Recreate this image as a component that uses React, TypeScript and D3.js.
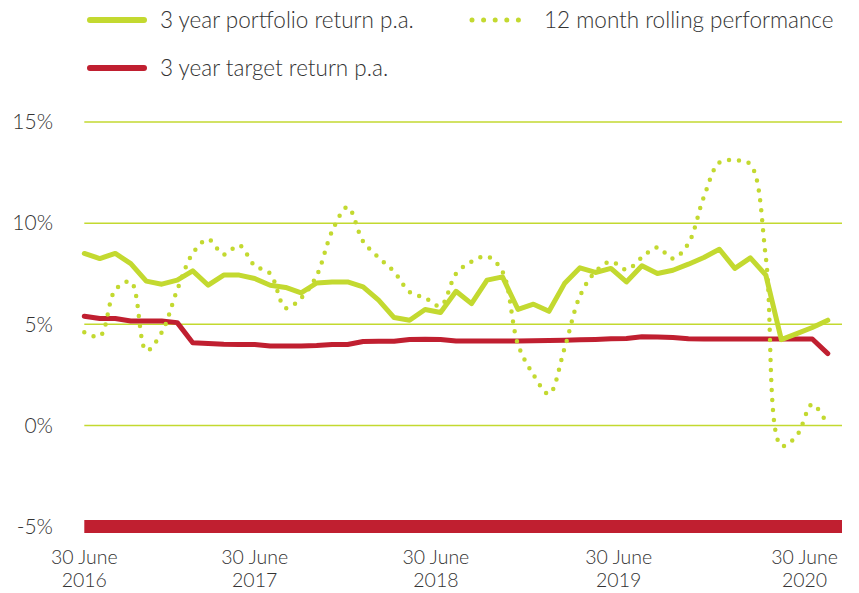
import React from "react";
import * as d3 from "d3";

const portfolio3y = [
  8.5, 8.25, 8.5, 8.0, 7.13, 6.98, 7.18, 7.64, 6.93, 7.43, 7.43, 7.26, 6.93, 6.82, 6.55,
  7.04, 7.09, 7.09, 6.85, 6.19, 5.33, 5.2, 5.73, 5.58, 6.63, 6.02, 7.18, 7.34, 5.73, 5.99,
  5.64, 7.01, 7.79, 7.56, 7.76, 7.09, 7.89, 7.51, 7.67, 7.97, 8.3, 8.71, 7.76, 8.28, 7.43,
  4.24, 4.54, 4.84, 5.2,
];
const rolling12m = [
  4.6, 4.4, 6.7, 7.1, 3.7, 4.6, 6.7, 8.5, 9.2, 8.45, 8.9, 7.9, 7.5, 5.8, 6.3,
  7.4, 9.6, 10.8, 9.1, 8.3, 7.6, 6.6, 6.3, 5.9, 7.5, 8.1, 8.35, 7.6, 4.0, 2.5,
  1.55, 3.8, 6.4, 7.6, 8.1, 7.7, 8.3, 8.8, 8.25, 9.0, 11.3, 13.0, 13.1, 12.9, 8.3,
  -1.0, -0.5, 1.05, 0.0,
];
const target3y = [
  5.4, 5.28, 5.28, 5.16, 5.16, 5.16, 5.08, 4.09, 4.05, 4.01, 4.0, 4.0, 3.92, 3.92, 3.92,
  3.95, 4.0, 4.0, 4.15, 4.16, 4.16, 4.25, 4.26, 4.25, 4.17, 4.17, 4.17, 4.17, 4.17, 4.18,
  4.2, 4.21, 4.23, 4.25, 4.28, 4.3, 4.38, 4.37, 4.35, 4.28, 4.27, 4.27, 4.27, 4.27, 4.27,
  4.27, 4.27, 4.27, 3.55,
];
const yTicks = [-5, 0, 5, 10, 15];
const xTickPos = [0, 11.0, 22.7, 34.5, 46.5];
const xTickLabels = [
  ["30 June", "2016"],
  ["30 June", "2017"],
  ["30 June", "2018"],
  ["30 June", "2019"],
  ["30 June", "2020"],
];
const legendItems = [
  { label: "3 year portfolio return p.a.", kind: "solid-green" },
  { label: "12 month rolling performance", kind: "dotted" },
  { label: "3 year target return p.a.", kind: "solid-red" },
];

const GREEN = "#c3d930";
const RED = "#c01f30";
const TEXT = "#333333";
const FONT = "'Source Sans Pro', Lato, 'Open Sans', sans-serif";

export default function App() {
  const W = 859;
  const H = 593;
  const x = d3.scaleLinear().domain([0, 48]).range([84.3, 827.8]);
  const y = d3.scaleLinear().domain([-5, 15]).range([526.5, 122]);
  const xEnd = 842;

  const solidLine = d3
    .line<number>()
    .x((_, i) => x(i))
    .y((d) => y(d))
    .curve(d3.curveLinear);
  const smoothLine = d3
    .line<number>()
    .x((_, i) => x(i))
    .y((d) => y(d))
    .curve(d3.curveCatmullRom.alpha(0.5));

  const legendPos = [
    { x: 88, y: 20 },
    { x: 472, y: 20 },
    { x: 88, y: 68 },
  ];

  return (
    <svg width={W} height={H} style={{ display: "block", position: "absolute", left: 0, top: 0 }} fontFamily={FONT}>
      <rect width={W} height={H} fill="#ffffff" />
      {legendItems.map((it, i) => {
        const p = legendPos[i];
        return (
          <g key={it.label}>
            {it.kind === "dotted" ? (
              <line x1={p.x} x2={p.x + 58} y1={p.y} y2={p.y} stroke={GREEN} strokeWidth={5} strokeLinecap="round" strokeDasharray="0 11.6" />
            ) : (
              <line x1={p.x + 2} x2={p.x + 56} y1={p.y} y2={p.y} stroke={it.kind === "solid-red" ? RED : GREEN} strokeWidth={6} strokeLinecap="round" />
            )}
            <text x={p.x + 72} y={p.y} dy="0.35em" fontSize={22.5} fontWeight={300} fill={TEXT}>
              {it.label}
            </text>
          </g>
        );
      })}
      {yTicks.map((t) => (
        <g key={t}>
          {t === -5 ? (
            <line x1={x(0)} x2={xEnd} y1={y(t)} y2={y(t)} stroke={RED} strokeWidth={13} />
          ) : (
            <line x1={x(0)} x2={xEnd} y1={y(t)} y2={y(t)} stroke={GREEN} strokeWidth={1.5} />
          )}
          <text x={53} y={y(t)} dy="0.35em" textAnchor="end" fontSize={21} fontWeight={300} fill={TEXT}>
            {`${t}%`}
          </text>
        </g>
      ))}
      {xTickPos.map((p, i) => (
        <g key={i}>
          <text x={x(p)} y={564} textAnchor="middle" fontSize={19.5} fontWeight={300} fill={TEXT}>
            {xTickLabels[i][0]}
          </text>
          <text x={x(p)} y={587} textAnchor="middle" fontSize={19.5} fontWeight={300} fill={TEXT}>
            {xTickLabels[i][1]}
          </text>
        </g>
      ))}
      <path d={solidLine(target3y) || ""} fill="none" stroke={RED} strokeWidth={5} strokeLinejoin="round" strokeLinecap="round" />
      <path d={smoothLine(rolling12m) || ""} fill="none" stroke={GREEN} strokeWidth={4.5} strokeLinecap="round" strokeDasharray="0 10" />
      <path d={solidLine(portfolio3y) || ""} fill="none" stroke={GREEN} strokeWidth={5} strokeLinejoin="round" strokeLinecap="round" />
    </svg>
  );
}
